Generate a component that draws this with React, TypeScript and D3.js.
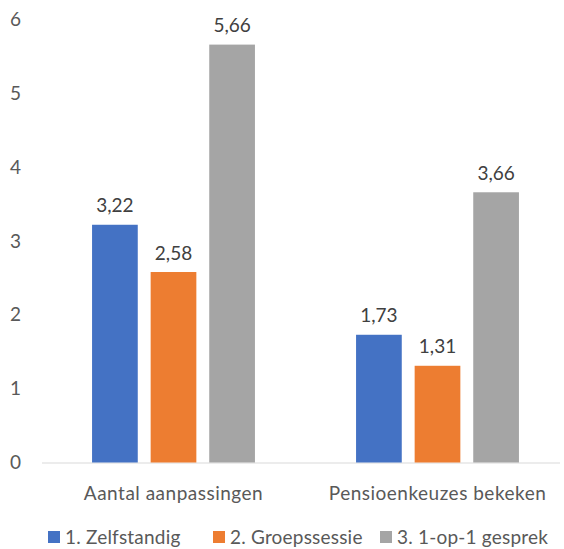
import * as d3 from "d3";

const categories = ["Aantal aanpassingen", "Pensioenkeuzes bekeken"];
const seriesNames = ["1. Zelfstandig", "2. Groepssessie", "3. 1-op-1 gesprek"];
const seriesColors = ["#4472c4", "#ed7d31", "#a5a5a5"];
const zelfstandig = [3.22, 1.73];
const groepssessie = [2.58, 1.31];
const eenOpEen = [5.66, 3.66];
const yTicks = [0, 1, 2, 3, 4, 5, 6];

const width = 564;
const height = 549;
const font = "Lato, 'Noto Sans', sans-serif";
const textColor = "#595959";
const fontSize = 19;

export default function App() {
  const values = [zelfstandig, groepssessie, eenOpEen];
  const x0 = d3.scaleBand<string>().domain(categories).range([41.5, 569.5]).paddingInner(0.383).paddingOuter(0.1915);
  const x1 = d3.scaleBand<string>().domain(seriesNames).range([0, x0.bandwidth()]).paddingInner(0.22).paddingOuter(0);
  const y = d3.scaleLinear().domain([0, 6]).range([462.5, 19.5]);
  const fmt = (v: number) => v.toFixed(2).replace(".", ",");
  const legendX = [48, 213, 380];

  return (
    <svg width={width} height={height} style={{ position: "absolute", left: 0, top: 0 }} fontFamily={font}>
      <rect width={width} height={height} fill="#fff" />
      {yTicks.map((t) => (
        <text key={t} x={21} y={y(t)} dy="0.35em" textAnchor="end" fontSize={fontSize} fill={textColor}>
          {t}
        </text>
      ))}
      <line x1={42} x2={560} y1={y(0) + 0.5} y2={y(0) + 0.5} stroke="#d9d9d9" strokeWidth={1} />
      {categories.map((c, ci) => (
        <g key={c} transform={`translate(${x0(c)},0)`}>
          {seriesNames.map((s, si) => {
            const v = values[si][ci];
            const bx = x1(s) ?? 0;
            return (
              <g key={s}>
                <rect x={bx} y={y(v)} width={x1.bandwidth()} height={y(0) - y(v)} fill={seriesColors[si]} />
                <text x={bx + x1.bandwidth() / 2} y={y(v) - 19} dy="0.35em" textAnchor="middle" fontSize={fontSize} fill="#404040">
                  {fmt(v)}
                </text>
              </g>
            );
          })}
          <text x={x0.bandwidth() / 2} y={493} dy="0.35em" textAnchor="middle" fontSize={fontSize} letterSpacing={0.5} fill={textColor}>
            {c}
          </text>
        </g>
      ))}
      {seriesNames.map((s, si) => (
        <g key={s} transform={`translate(${legendX[si]},537)`}>
          <rect x={0} y={-6} width={12} height={12} fill={seriesColors[si]} />
          <text x={17} y={0} dy="0.35em" fontSize={fontSize} letterSpacing={0.2} fill={textColor}>
            {s}
          </text>
        </g>
      ))}
    </svg>
  );
}
